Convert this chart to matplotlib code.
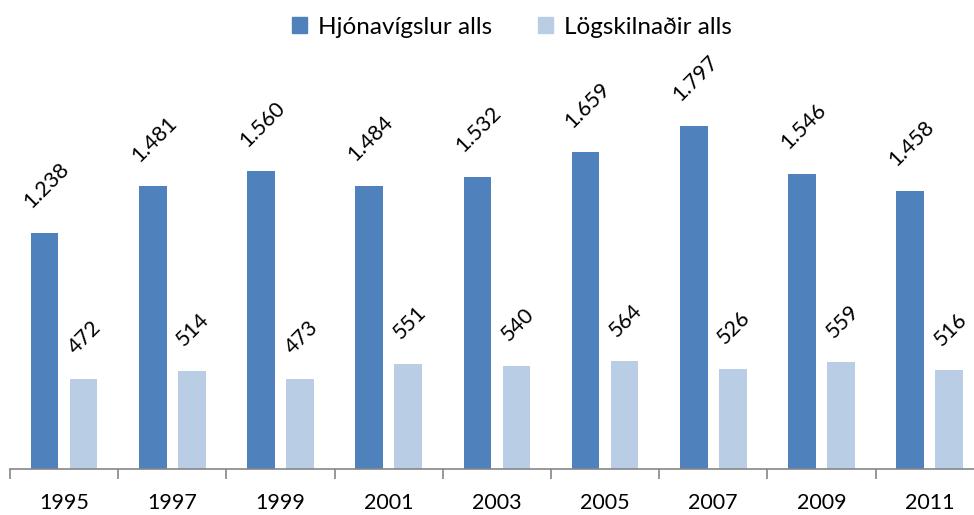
import matplotlib
matplotlib.use("Agg")
import matplotlib.pyplot as plt
import numpy as np
from matplotlib.patches import Patch

years = ["1995", "1997", "1999", "2001", "2003", "2005", "2007", "2009", "2011"]
marriages = [1238, 1481, 1560, 1484, 1532, 1659, 1797, 1546, 1458]
divorces = [472, 514, 473, 551, 540, 564, 526, 559, 516]
series_names = ["Hjónavígslur alls", "Lögskilnaðir alls"]

def fmt(v):
    return f"{v:,}".replace(",", ".")

plt.rcParams['font.family'] = ['Lato', 'DejaVu Sans']
FS = 15.5

fig = plt.figure(figsize=(9.74, 5.15), dpi=100)
ax = fig.add_axes([10/974, 1-469/515, 973.8/974, 2200*0.1909/515])

x = np.arange(len(years))
w = 0.255
off = 0.18
c1, c2 = "#4F81BD", "#B9CDE5"
b1 = ax.bar(x - off, marriages, w, color=c1)
b2 = ax.bar(x + off, divorces, w, color=c2)

for bars, vals in ((b1, marriages), (b2, divorces)):
    for r, v in zip(bars, vals):
        ax.annotate(fmt(v), (r.get_x() + r.get_width()/2, r.get_height()),
                    xytext=(1, 15), textcoords="offset points",
                    ha="center", va="bottom", rotation=45, fontsize=FS,
                    color="black")

ax.set_xlim(-0.5, len(years) - 0.5)
ax.set_ylim(0, 2200)
for s in ("top", "right", "left"):
    ax.spines[s].set_visible(False)
ax.spines["bottom"].set_color("#868686")
ax.spines["bottom"].set_linewidth(1.2)
ax.set_yticks([])
ax.set_xticks(x)
ax.set_xticklabels(years, fontsize=FS)
ax.tick_params(axis="x", which="major", length=0, pad=17)
ax.set_xticks(np.arange(-0.5, len(years), 1), minor=True)
ax.tick_params(axis="x", which="minor", length=7, width=1.2, color="#868686", direction="out")

handles = [Patch(color=c1), Patch(color=c2)]
fig.legend(handles, series_names, loc="center", bbox_to_anchor=(512/974, 1-27/515),
           ncol=2, frameon=False, fontsize=17.5, handlelength=0.6, handleheight=0.6,
           handletextpad=0.45, columnspacing=1.9)

fig.savefig("out.png", dpi=100)
